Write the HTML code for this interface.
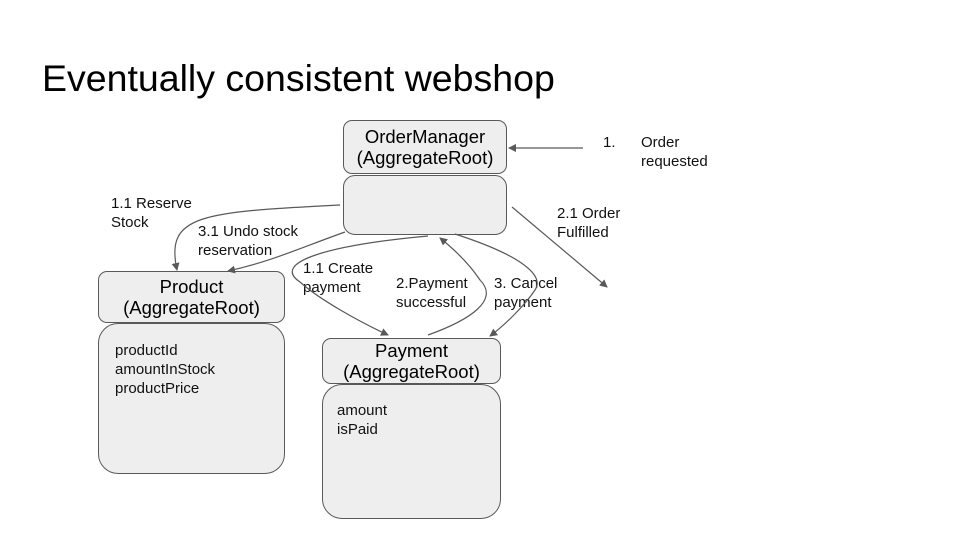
<!DOCTYPE html>
<html><head><style>
body{margin:0;width:960px;height:540px;background:#fff;position:relative;overflow:hidden;font-family:"Liberation Sans",sans-serif;}
.b{position:absolute;background:#eeeeee;border:1px solid #595959;box-sizing:border-box;}
.t{position:absolute;font-size:15px;line-height:19px;color:#111;white-space:nowrap;}
.h{font-size:18.5px;line-height:21px;text-align:center;display:flex;align-items:center;justify-content:center;}
</style></head><body>
<div class="t" style="left:42px;top:57px;font-size:37.5px;line-height:42px;color:#000">Eventually consistent webshop</div>

<div class="b h" style="left:343px;top:120px;width:164px;height:54px;border-radius:9px">OrderManager<br>(AggregateRoot)</div>
<div class="b" style="left:343px;top:175px;width:164px;height:60px;border-radius:12px"></div>

<div class="b h" style="left:98px;top:271px;width:187px;height:52px;border-radius:9px">Product<br>(AggregateRoot)</div>
<div class="b" style="left:98px;top:323px;width:187px;height:151px;border-radius:20px"></div>
<div class="t" style="left:115px;top:341px">productId<br>amountInStock<br>productPrice</div>

<div class="b h" style="left:322px;top:338px;width:179px;height:46px;border-radius:9px">Payment<br>(AggregateRoot)</div>
<div class="b" style="left:322px;top:384px;width:179px;height:135px;border-radius:20px"></div>
<div class="t" style="left:337px;top:401px">amount<br>isPaid</div>

<div class="t" style="left:603px;top:133px">1.</div>
<div class="t" style="left:641px;top:133px">Order<br>requested</div>
<div class="t" style="left:111px;top:194px">1.1 Reserve<br>Stock</div>
<div class="t" style="left:198px;top:222px">3.1 Undo stock<br>reservation</div>
<div class="t" style="left:557px;top:204px">2.1 Order<br>Fulfilled</div>
<div class="t" style="left:303px;top:259px">1.1 Create<br>payment</div>
<div class="t" style="left:396px;top:274px">2.Payment<br>successful</div>
<div class="t" style="left:494px;top:274px">3. Cancel<br>payment</div>

<svg width="960" height="540" style="position:absolute;left:0;top:0">
<defs><marker id="a" markerWidth="8" markerHeight="8" refX="7" refY="4" orient="auto" markerUnits="userSpaceOnUse"><path d="M0,0 L8,4 L0,8 z" fill="#595959"/></marker></defs>
<g stroke="#595959" stroke-width="1.2" fill="none" marker-end="url(#a)">
<path d="M583,148 L509,148"/>
<path d="M340,205 C200,212 165,215 177,270"/>
<path d="M345,232 C300,248 270,262 228,271"/>
<path d="M512,207 L607,287"/>
<path d="M428,236 C330,245 270,262 300,282 C320,300 360,322 388,335"/>
<path d="M428,335 C470,320 500,300 480,280 C470,265 455,250 440,238"/>
<path d="M455,234 C520,255 545,275 535,290 C525,305 505,325 490,336"/>
</g>
</svg>
</body></html>
